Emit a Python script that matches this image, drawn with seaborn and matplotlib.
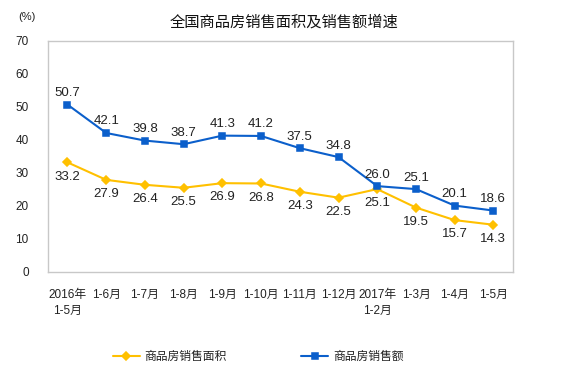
import matplotlib
matplotlib.use("Agg")
import matplotlib.pyplot as plt
import seaborn as sns
import pandas as pd

categories = ["2016年\n1-5月", "1-6月", "1-7月", "1-8月", "1-9月", "1-10月", "1-11月",
              "1-12月", "2017年\n1-2月", "1-3月", "1-4月", "1-5月"]
area_growth = [33.2, 27.9, 26.4, 25.5, 26.9, 26.8, 24.3, 22.5, 25.1, 19.5, 15.7, 14.3]
sales_growth = [50.7, 42.1, 39.8, 38.7, 41.3, 41.2, 37.5, 34.8, 26.0, 25.1, 20.1, 18.6]
series_names = ["商品房销售面积", "商品房销售额"]
yticks = [0, 10, 20, 30, 40, 50, 60, 70]

sns.set_theme(style="white")
FAM = ['Liberation Sans', 'Noto Sans CJK SC', 'DejaVu Sans']
plt.rcParams['font.family'] = FAM

YELLOW = "#FFC000"
BLUE = "#0B5FCB"
TXT = "#222222"

fig = plt.figure(figsize=(5.8, 3.72), dpi=100)
ax = fig.add_axes([0.083, 0.269, 0.801, 0.621])

df_area = pd.DataFrame({"cat": categories, "val": area_growth})
df_sales = pd.DataFrame({"cat": categories, "val": sales_growth})

sns.pointplot(data=df_area, x="cat", y="val", order=categories, color=YELLOW,
              markers="D", markersize=4, linewidth=1.5, ax=ax, label=series_names[0])
sns.pointplot(data=df_sales, x="cat", y="val", order=categories, color=BLUE,
              markers="s", markersize=4.2, linewidth=1.5, ax=ax, label=series_names[1])
if ax.get_legend() is not None:
    ax.get_legend().remove()

for i, v in enumerate(area_growth):
    ax.annotate(f"{v:.1f}", (i, v), xytext=(0, -6), textcoords="offset points",
                ha="center", va="top", fontsize=9.5, color=TXT)
for i, v in enumerate(sales_growth):
    ax.annotate(f"{v:.1f}", (i, v), xytext=(0, 4), textcoords="offset points",
                ha="center", va="bottom", fontsize=9.5, color=TXT)

ax.set_xlim(-0.5, len(categories) - 0.5)
ax.set_ylim(0, 70)
ax.set_yticks(yticks)
ax.set_yticklabels([str(t) for t in yticks], fontsize=8.5, color=TXT)
ax.set_xticks(range(len(categories)))
ax.set_xticklabels(categories, fontsize=8.5, color=TXT, linespacing=1.45)
ax.set_xticks([i - 0.5 for i in range(len(categories) + 1)], minor=True)
ax.tick_params(axis="x", which="major", length=0, pad=12)
ax.tick_params(axis="x", which="minor", length=4, direction="in", color="#BFBFBF", width=0.8)
ax.tick_params(axis="y", which="major", length=4, direction="in", color="#BFBFBF", width=0.8, pad=14)
ax.set_xlabel("")
ax.set_ylabel("")
for s in ax.spines.values():
    s.set_color("#C8C8C8")
    s.set_linewidth(1.0)
ax.grid(False)

fig.text(0.031, 0.955, "(%)", fontsize=8, color=TXT, ha="left", va="center")
fig.text(0.49, 0.94, "全国商品房销售面积及销售额增速", fontsize=11, color="#111111",
         ha="center", va="center")

handles, labels = ax.get_legend_handles_labels()
leg = fig.legend(handles, labels, loc="center", bbox_to_anchor=(0.445, 0.04), ncol=2,
                 frameon=False, fontsize=8.5, columnspacing=6.3, handlelength=2.3,
                 handletextpad=0.4)
for t in leg.get_texts():
    t.set_color(TXT)

fig.savefig("out.png", dpi=100)
